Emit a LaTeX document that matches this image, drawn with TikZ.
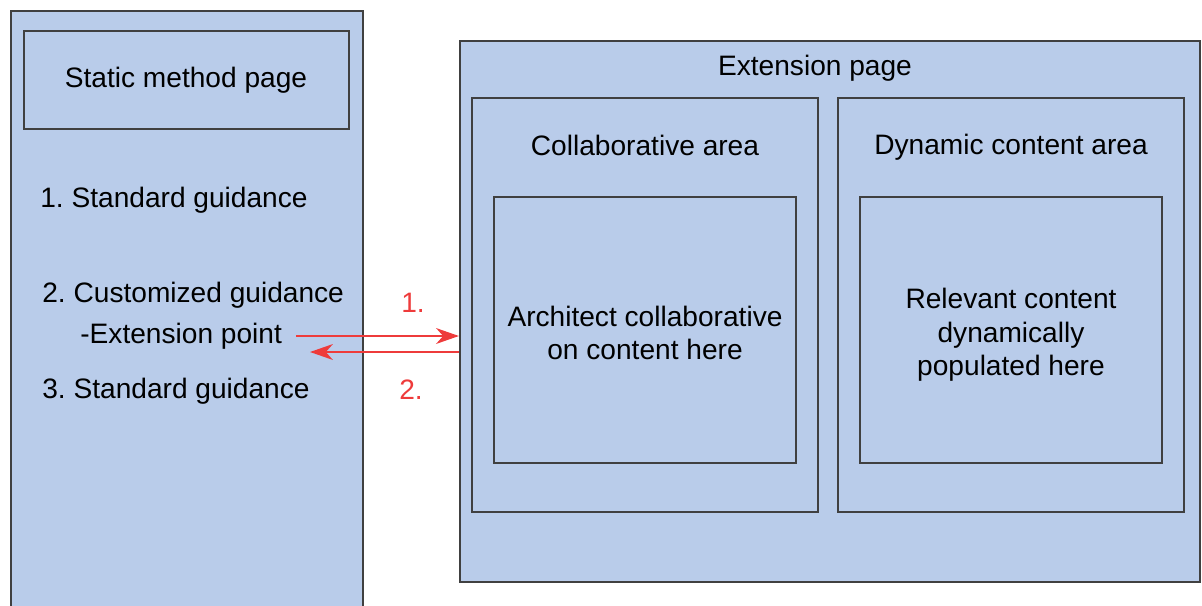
\documentclass[tikz,border=0pt]{standalone}
\usepackage{fontspec}
\setmainfont{Liberation Sans}
\usetikzlibrary{fit,arrows.meta}
\frenchspacing

\definecolor{panelblue}{HTML}{B9CCEA}
\definecolor{edgegray}{HTML}{404040}
\definecolor{callred}{HTML}{EE3B3B}

\tikzset{
    panel/.style={draw=edgegray, fill=panelblue, line width=1.2pt, inner sep=0pt},
    txt/.style={inner sep=0pt, font=\fontsize{16}{19}\selectfont, align=center},
    flow/.style={draw=callred, line width=1.1pt, -{Stealth[length=13pt,width=9pt,inset=4pt]}},
    steplabel/.style={txt, text=callred}
}

\begin{document}
\begin{tikzpicture}[x=0.02cm, y=-0.02cm]
    \useasboundingbox (0,0) rectangle (1202,605);
    \clip (0,0) rectangle (1202,605);

    % Cột trái: trang phương pháp tĩnh
    \node[panel, fit={(11,11) (363,640)}] (methodcol) {};
    \node[panel, fit={(24,31) (349,129)}] (methodpage) {};
    \node[txt] (methodtitle) at (186,80) {Static method page};
    \node[txt, anchor=west] (std1) at (40,200) {1. Standard guidance};
    \node[txt, anchor=west] (custom) at (42,295) {2. Customized guidance};
    \node[txt, anchor=west] (extpt) at (80,336) {-Extension point};
    \node[txt, anchor=west] (std3) at (42,391) {3. Standard guidance};

    % Bên phải: trang mở rộng
    \node[panel, fit={(460,41) (1200,582)}] (extpage) {};
    \node[txt] (exttitle) at (815,68) {Extension page};

    \node[panel, fit={(472,98) (818,512)}] (collab) {};
    \node[txt] (collabtitle) at (645,145) {Collaborative area};
    \node[panel, fit={(494,197) (796,463)}] (collabin) {};
    \node[txt] (collabtext) at (645,333) {Architect collaborative\\on content here};

    \node[panel, fit={(838,98) (1184,512)}] (dyn) {};
    \node[txt] (dyntitle) at (1011,147) {Dynamic content area};
    \node[panel, fit={(860,197) (1162,463)}] (dynin) {};
    \node[txt] (dyntext) at (1011,335) {Relevant content\\dynamically\\populated here};

    % Mũi tên gọi và trả về
    \coordinate (ret) at (310,352);
    \draw[flow, shorten <=8pt] (extpt.east) -- (extpt.east -| extpage.west);
    \draw[flow] (extpage.west |- ret) -- (ret);
    \node[steplabel] (call) at (413,303) {1.};
    \node[steplabel] (back) at (411,390) {2.};
\end{tikzpicture}
\end{document}
